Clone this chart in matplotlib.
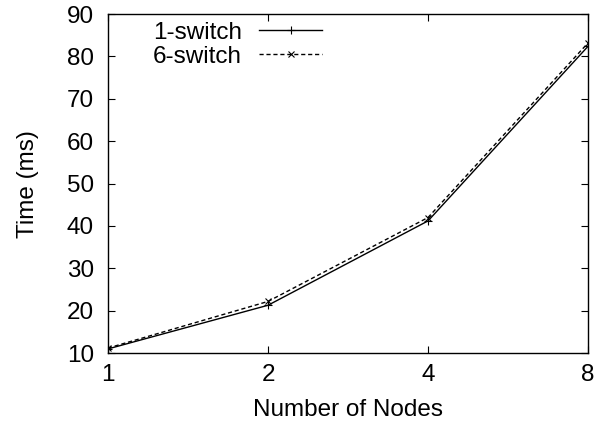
import matplotlib
matplotlib.use("Agg")
import matplotlib.pyplot as plt

# data
nodes = [1, 2, 4, 8]
one_switch = [11.0, 21.3, 41.2, 82.4]
six_switch = [11.2, 22.2, 42.0, 83.2]

plt.rcParams['font.family'] = ['Liberation Sans', 'DejaVu Sans']
FS = 17.5

fig = plt.figure(figsize=(6.05, 4.26), dpi=100)
ax = fig.add_axes([0.1785, 0.171, 0.7935, 0.796])

ax.plot(nodes, one_switch, color='black', lw=1.0, ls='-', marker='+',
        markersize=6, markeredgewidth=0.8, label='1-switch')
ax.plot(nodes, six_switch, color='black', lw=1.0, ls=(0, (3, 2)), marker='x',
        markersize=5, markeredgewidth=0.8, label='6-switch')

ax.set_xscale('log', base=2)
ax.set_xlim(1, 8)
ax.set_ylim(10, 90)
ax.set_xticks(nodes)
ax.set_xticklabels([str(n) for n in nodes])
ax.minorticks_off()
ax.set_yticks(range(10, 91, 10))

ax.tick_params(direction='in', top=True, right=True, length=5, width=0.8,
               pad=10, labelsize=FS)
ax.tick_params(axis='x', pad=8)
for s in ax.spines.values():
    s.set_linewidth(1.0)

ax.set_xlabel('Number of Nodes', fontsize=FS, labelpad=9)
ax.set_ylabel('Time (ms)', fontsize=FS, labelpad=20)

ax.legend(loc='upper left', bbox_to_anchor=(0.094, 0.978), frameon=False,
          markerfirst=False, handlelength=2.6, handletextpad=0.7,
          labelspacing=0.1, borderaxespad=0, borderpad=0, fontsize=FS)

fig.savefig('out.png', dpi=100)
